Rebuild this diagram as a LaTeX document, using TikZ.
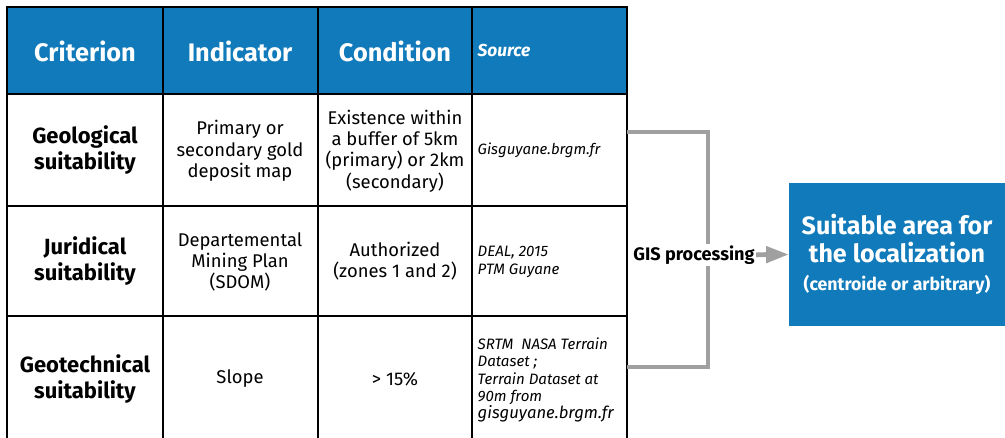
\documentclass[tikz,border=0pt]{standalone}
\usepackage{fontspec}
\setmainfont{Fira Sans}
\usetikzlibrary{arrows.meta}
\definecolor{hblue}{RGB}{16,122,186}
\definecolor{lgray}{RGB}{160,160,160}
\begin{document}
\begin{tikzpicture}[x=0.75pt,y=-0.75pt,
  hd/.style={text=white,font=\fontsize{19}{22}\selectfont\bfseries},
  crit/.style={align=center,font=\fontsize{16.5}{19.5}\selectfont\bfseries},
  cell/.style={align=center,font=\fontsize{13.8}{16}\selectfont},
  src/.style={anchor=west,align=left,font=\fontsize{11.3}{13}\selectfont\itshape},
  link/.style={draw=lgray,line width=3.6pt}]

\useasboundingbox (0,0) rectangle (1005,438);

\fill[hblue] (7,7) rectangle (627,94);
\draw[line width=1.1pt] 
(7,438) -- (7,7) -- (627,7) -- (627,438)
(7,94) -- (627,94)
(7,206) -- (627,206)
(7,316) -- (627,316)
(163,7) -- (163,438)
(318,7) -- (318,438)
(472,7) -- (472,438)
;

\node[hd](hc) at(85,51) {Criterion};
\node[hd](hi) at(240,51) {Indicator};
\node[hd](hk) at(395,51) {Condition};
\node[hd,anchor=west,font=\fontsize{13}{15}\selectfont\bfseries\itshape](hs) at(473,50) {Source};

\node[crit](c1) at(85,150) {Geological\\suitability};
\node[crit](c2) at(85,261) {Juridical\\suitability};
\node[crit](c3) at(85,379) {Geotechnical\\suitability};

\begin{scope}[every node/.style={cell}]
\node(i1) at(240,151) {Primary or\\secondary gold\\deposit map};
\node(i2) at(240,262) {Departemental\\Mining Plan\\(SDOM)};
\node(i3) at(240,379) {Slope};
\node(k1) at(395,151) {Existence within\\a buffer of 5km\\(primary) or 2km\\(secondary)};
\node(k2) at(395,261) {Authorized\\(zones 1 and 2)};
\node(k3) at(395,379) {> 15\%};
\end{scope}

\node[src,font=\fontsize{11.2}{15}\selectfont\itshape](s1) at(473,150) {Gisguyane.brgm.fr};
\node[src](s2) at(473,262) {DEAL, 2015\\PTM Guyane};
\node[src](s3) at(473,380) {SRTM\ \ NASA Terrain\\Dataset ;\\Terrain Dataset at\\90m from\\{\fontsize{12.5}{15}\selectfont gisguyane.brgm.fr}};

\node[fill=hblue,text=white,align=center,minimum width=162pt,minimum height=107pt,
  font=\fontsize{18.8}{21}\selectfont\bfseries](area) at(897,254.5)
  {Suitable area for\\the localization\\{\fontsize{13.3}{15}\selectfont(centroide or arbitrary)}};

\coordinate(up) at(627,132);
\coordinate(dn) at(627,367);
\coordinate(jn) at(708,255);

\draw[link] (up) -| (jn) |- (dn);
\draw[link,-{Triangle[length=17pt,width=12pt]}] (jn) -- (area.west);

\node[fill=white,inner sep=1pt,font=\fontsize{13.6}{15}\selectfont\bfseries](gis) at(694,255) {GIS processing};

\end{tikzpicture}
\end{document}
